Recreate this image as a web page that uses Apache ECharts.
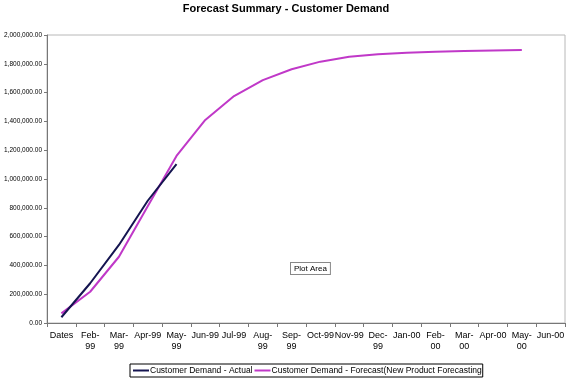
<!DOCTYPE html>
<html>
<head>
<meta charset="utf-8">
<script src="https://cdn.jsdelivr.net/npm/echarts@6/dist/echarts.min.js"></script>
<style>
html,body{margin:0;padding:0;background:#fff;}
#c{width:572px;height:381px;}
</style>
</head>
<body>
<div id="c"></div>
<script>
var categories = ['Dates','Feb-\n99','Mar-\n99','Apr-99','May-\n99','Jun-99','Jul-99','Aug-\n99','Sep-\n99','Oct-99','Nov-99','Dec-\n99','Jan-00','Feb-\n00','Mar-\n00','Apr-00','May-\n00','Jun-00'];
var actual = [40000, 276000, 542000, 849000, 1104000];
var forecast = [67000, 217000, 460000, 810000, 1160000, 1410000, 1576000, 1687000, 1762000, 1815000, 1849000, 1866000, 1877000, 1884000, 1889000, 1892000, 1895000, null];
var seriesNames = ['Customer Demand - Actual', 'Customer Demand - Forecast(New Product Forecasting)'];

function fmt(v){
  return v.toLocaleString('en-US',{minimumFractionDigits:2,maximumFractionDigits:2});
}
var chart = echarts.init(document.getElementById('c'), null, {renderer:'canvas'});
chart.setOption({
  animation:false,
  backgroundColor:'#fff',
  title:{
    text:'Forecast Summary - Customer Demand',
    left:'center', top:-2,
    textStyle:{fontFamily:'Liberation Sans', fontSize:11, fontWeight:'bold', color:'#000'}
  },
  grid:{left:47, top:35, right:7, bottom:58, show:true, borderColor:'#b8b8b8', borderWidth:1, backgroundColor:'#fff'},
  legend:{
    bottom:4, left:130,
    width:500, orient:'horizontal',
    data:[
      {name:seriesNames[0]},
      {name:seriesNames[1], textStyle:{width:212, overflow:'truncate', ellipsis:''}}
    ],
    icon:'rect', itemWidth:16, itemHeight:2, itemGap:2,
    borderColor:'#000', borderWidth:1, padding:[2,1,2,3],
    textStyle:{fontFamily:'Liberation Sans', fontSize:8.5, color:'#000', padding:[0,0,0,-4]}
  },
  xAxis:{
    type:'category', data:categories, boundaryGap:true,
    axisLine:{lineStyle:{color:'#777'}},
    axisTick:{show:true, length:4, lineStyle:{color:'#777'}},
    axisLabel:{interval:0, fontFamily:'Liberation Sans', fontSize:9, color:'#000', lineHeight:11, margin:7}
  },
  yAxis:{
    type:'value', min:0, max:2000000, interval:200000,
    axisLine:{show:true, lineStyle:{color:'#777'}},
    axisTick:{show:true, length:3, lineStyle:{color:'#777'}},
    splitLine:{show:false},
    axisLabel:{fontFamily:'Liberation Sans', fontSize:6.5, color:'#000', margin:5, formatter:fmt}
  },
  series:[
    {name:seriesNames[0], type:'line', data:actual, showSymbol:false, lineStyle:{color:'#141450', width:2}, itemStyle:{color:'#141450'}, z:3},
    {name:seriesNames[1], type:'line', data:forecast, showSymbol:false, lineStyle:{color:'#c038c8', width:2}, itemStyle:{color:'#c038c8'}, z:2}
  ],
  graphic:[
    {type:'text', left:290, top:262,
     style:{text:'Plot Area', font:'8px "Liberation Sans"', fill:'#000', backgroundColor:'#fff', borderColor:'#888', borderWidth:1, padding:[2,3,1,3]}}
  ]
});
</script>
</body>
</html>
